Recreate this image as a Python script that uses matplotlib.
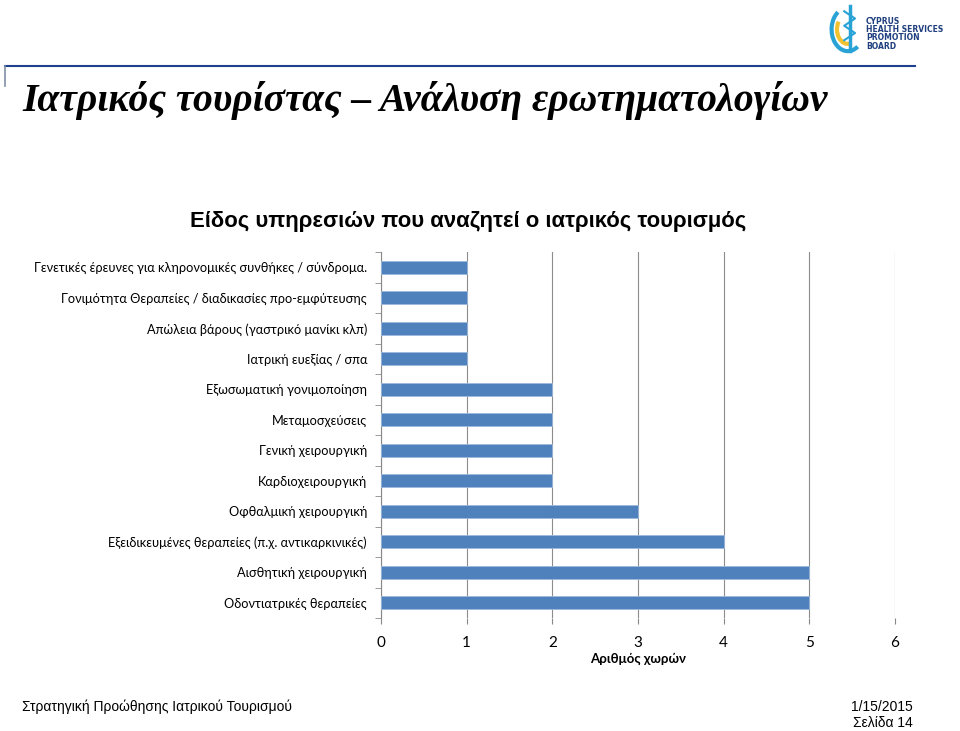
import matplotlib
matplotlib.use("Agg")
import matplotlib.pyplot as plt
from matplotlib.patches import Arc

categories = [
    "Γενετικές έρευνες για κληρονομικές συνθήκες / σύνδρομα.",
    "Γονιμότητα Θεραπείες / διαδικασίες προ-εμφύτευσης",
    "Απώλεια βάρους (γαστρικό μανίκι κλπ)",
    "Ιατρική ευεξίας / σπα",
    "Εξωσωματική γονιμοποίηση",
    "Μεταμοσχεύσεις",
    "Γενική χειρουργική",
    "Καρδιοχειρουργική",
    "Οφθαλμική χειρουργική",
    "Εξειδικευμένες θεραπείες (π.χ. αντικαρκινικές)",
    "Αισθητική χειρουργική",
    "Οδοντιατρικές θεραπείες",
]
values = [1, 1, 1, 1, 2, 2, 2, 2, 3, 4, 5, 5]
xticks = [0, 1, 2, 3, 4, 5, 6]

W, H = 960, 731
fig = plt.figure(figsize=(W / 100, H / 100), dpi=100)
fig.patch.set_facecolor("white")

# header line
fig.add_artist(plt.Line2D([5 / W, 915 / W], [1 - 66 / H, 1 - 66 / H], color="#1F3F8F", lw=1.5))
fig.add_artist(plt.Line2D([5 / W, 5 / W], [1 - 66 / H, 1 - 86 / H], color="#8090A8", lw=1.2))

# logo approximation
lax = fig.add_axes([828 / W, 1 - 62 / H, 36 / W, 58 / H])
lax.set_xlim(0, 1); lax.set_ylim(0, 1.6); lax.axis("off")
lax.add_patch(Arc((0.55, 0.9), 0.9, 1.2, theta1=120, theta2=300, color="#29A3D6", lw=3))
lax.add_patch(Arc((0.55, 0.9), 0.6, 0.8, theta1=140, theta2=280, color="#F2C230", lw=3))
lax.plot([0.6, 0.6], [0.3, 1.55], color="#29A3D6", lw=2.5)
lax.plot([0.45, 0.75, 0.45, 0.75, 0.45], [1.4, 1.2, 1.0, 0.8, 0.6], color="#29A3D6", lw=1.5)
for i, t in enumerate(["CYPRUS", "HEALTH SERVICES", "PROMOTION", "BOARD"]):
    fig.text(866 / W, 1 - (21 + i * 8.5) / H, t, fontsize=5.5, color="#1F3F7F",
             family="Liberation Sans Narrow", weight="bold", va="center", ha="left")

fig.text(22 / W, 1 - 100 / H, "Ιατρικός τουρίστας – Ανάλυση ερωτηματολογίων",
         fontsize=28.5, family="Liberation Serif", weight="bold", style="italic",
         va="center", ha="left")

fig.text(468 / W, 1 - 222 / H, "Είδος υπηρεσιών που αναζητεί ο ιατρικός τουρισμός",
         fontsize=15.9, family="Liberation Sans", weight="bold", va="center", ha="center")

ax = fig.add_axes([381 / W, 1 - 618 / H, (895 - 381) / W, (618 - 252) / H])
y = list(range(len(categories)))
ax.barh(y, values, height=0.42, color="#4F81BD", edgecolor="#9DB9DC", linewidth=0.6, zorder=3)
ax.set_ylim(len(categories) - 0.5, -0.5)
ax.set_xlim(0, 6)
ax.set_xticks(xticks)
ax.set_xticklabels([str(v) for v in xticks], family="Lato", fontsize=11)
ax.set_yticks(y)
ax.set_yticklabels(categories, family="Lato", fontsize=9.2)
ax.set_yticks([i - 0.5 for i in range(len(categories) + 1)], minor=True)
ax.tick_params(axis="y", which="major", length=0, pad=10)
ax.tick_params(axis="y", which="minor", length=4, color="#888888", direction="out")
ax.tick_params(axis="x", length=4, color="#888888", pad=9, direction="out")
ax.grid(axis="x", color="#8C8C8C", lw=0.8, zorder=0)
for s in ["top", "right", "bottom"]:
    ax.spines[s].set_visible(False)
ax.spines["left"].set_color("#888888")
ax.set_xlabel("Αριθμός χωρών", family="Lato", fontsize=9.5, weight="bold", labelpad=2)

fig.text(22 / W, 1 - 707 / H, "Στρατηγική Προώθησης Ιατρικού Τουρισμού",
         fontsize=10, family="Liberation Sans", va="center", ha="left")
fig.text(913 / W, 1 - 707 / H, "1/15/2015", fontsize=10, family="Liberation Sans",
         va="center", ha="right")
fig.text(913 / W, 1 - 723 / H, "Σελίδα 14", fontsize=10, family="Liberation Sans",
         va="center", ha="right")

fig.savefig("out.png", dpi=100, facecolor="white")
